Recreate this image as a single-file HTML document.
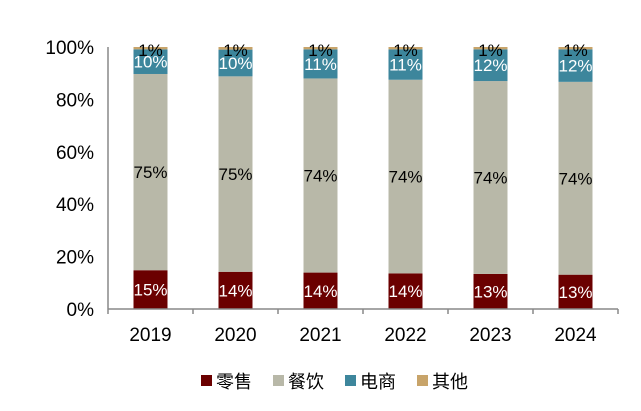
<!DOCTYPE html>
<html><head><meta charset="utf-8"><style>
body{margin:0;background:#fff;}
svg text{font-family:"Liberation Sans","Noto Sans CJK SC",sans-serif;}
</style></head><body>
<svg width="641" height="406">
<g id="yaxis"></g><g id="bars"></g><g id="xaxis"></g><g id="legend"></g>
</svg>
<script>
const categories=["2019","2020","2021","2022","2023","2024"];
const retail=[14.8,14.2,13.9,13.6,13.4,13.1];
const food=[74.9,74.6,74.1,73.9,73.6,73.6];
const ecom=[9.4,10.2,11.1,11.6,12.1,12.4];
const other=[0.9,1.0,0.9,0.9,0.9,0.9];
const retailLbl=["15%","14%","14%","14%","13%","13%"];
const foodLbl=["75%","75%","74%","74%","74%","74%"];
const ecomLbl=["10%","10%","11%","11%","12%","12%"];
const otherLbl=["1%","1%","1%","1%","1%","1%"];
const yTicks=[0,20,40,60,80,100];
const seriesNames=["零售","餐饮","电商","其他"];
const colors=["#6b0000","#b8b8a8","#3d869c","#c8a46a"];
const NS="http://www.w3.org/2000/svg";
const x0=108,cw=85,y0=309,yTop=47,bw=34;
const y=v=>y0-(v/100)*(y0-yTop);
const xc=i=>x0+cw*(i+0.5);
function mk(t,a,p){const e=document.createElementNS(NS,t);for(const k in a)e.setAttribute(k,a[k]);p.appendChild(e);return e;}
const ya=document.getElementById('yaxis');
let ax=mk('line',{x1:x0,y1:yTop,x2:x0,y2:y0,stroke:'#888','stroke-width':1.5},ya);

yTicks.forEach(t=>{const e=mk('text',{x:x0-14,y:y(t)+7,'text-anchor':'end','font-size':19},ya);e.textContent=t+'%';
});
const xa=document.getElementById('xaxis');
let xl=mk('line',{x1:x0,y1:y0,x2:x0+cw*categories.length,y2:y0,stroke:'#888','stroke-width':1.5},xa);

for(let i=0;i<=categories.length;i++){mk('line',{x1:x0+cw*i,y1:y0,x2:x0+cw*i,y2:y0+5,stroke:'#888','stroke-width':1.5},xa);}
categories.forEach((c,i)=>{const e=mk('text',{x:xc(i),y:y0+32,'text-anchor':'middle','font-size':19},xa);e.textContent=c;
});
const bg=document.getElementById('bars');
const series=[retail,food,ecom,other],labels=[retailLbl,foodLbl,ecomLbl,otherLbl],tc=['#fff','#000','#fff','#000'];
categories.forEach((c,i)=>{let base=0;
series.forEach((s,k)=>{const v=s[i];const r=mk('rect',{x:xc(i)-bw/2,y:y(base+v),width:bw,height:y(base)-y(base+v),fill:colors[k]},bg);

const ly=k===3?y(base+v)+9:(y(base)+y(base+v))/2+6;
const t=mk('text',{x:xc(i),y:ly,'text-anchor':'middle','font-size':17,fill:tc[k]},bg);t.textContent=labels[k][i];

base+=v;});});
const lg=document.getElementById('legend');
const lx=[201,273,345,417];
seriesNames.forEach((n,k)=>{const r=mk('rect',{x:lx[k],y:375,width:11,height:11,fill:colors[k]},lg);

const t=mk('text',{x:lx[k]+15,y:388,'font-size':18},lg);t.textContent=n;
});
</script>
</body></html>
